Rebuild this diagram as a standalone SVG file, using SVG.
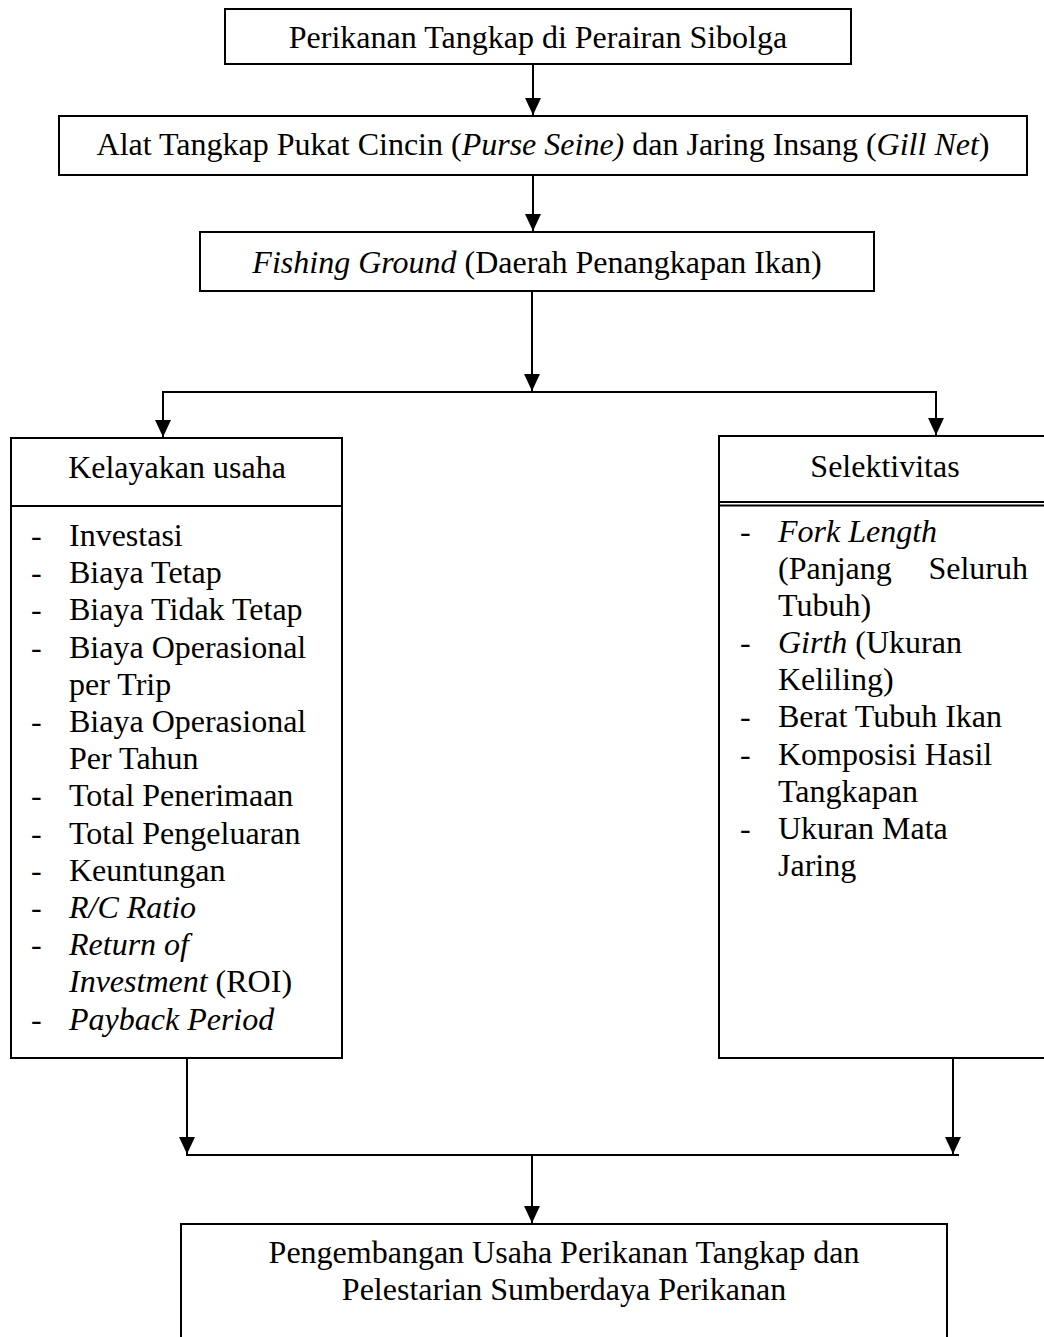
<svg xmlns="http://www.w3.org/2000/svg" width="1044" height="1337" viewBox="0 0 1044 1337">
<style>
  .box { fill: #fff; stroke: #000; stroke-width: 2; }
  .ln { stroke: #000; stroke-width: 2; fill: none; }
  text { font-family: "Liberation Serif", "Times New Roman", serif; font-size: 32px; fill: #000; }
  .c { text-anchor: middle; }
  .i { font-style: italic; }
</style>
<defs>
  <marker id="arr" markerUnits="userSpaceOnUse" markerWidth="18" markerHeight="16" viewBox="0 0 18 16" refX="17" refY="8" orient="auto">
    <path d="M0,0 L17,8 L0,16 Z" fill="#000"/>
  </marker>
</defs>
<rect width="1044" height="1337" fill="#fff"/>

<g id="connectors">
  <line class="ln" x1="533" y1="64" x2="533" y2="115" marker-end="url(#arr)"/>
  <line class="ln" x1="533" y1="175" x2="533" y2="231" marker-end="url(#arr)"/>
  <line class="ln" x1="532" y1="291" x2="532" y2="391" marker-end="url(#arr)"/>
  <line class="ln" x1="162" y1="392" x2="937" y2="392"/>
  <line class="ln" x1="163" y1="392" x2="163" y2="437" marker-end="url(#arr)"/>
  <line class="ln" x1="936" y1="392" x2="936" y2="435" marker-end="url(#arr)"/>
  <line class="ln" x1="187" y1="1058" x2="187" y2="1154" marker-end="url(#arr)"/>
  <line class="ln" x1="953" y1="1058" x2="953" y2="1154" marker-end="url(#arr)"/>
  <line class="ln" x1="186" y1="1155" x2="959" y2="1155"/>
  <line class="ln" x1="532" y1="1155" x2="532" y2="1223" marker-end="url(#arr)"/>
</g>

<g id="node-perikanan">
  <rect class="box" x="225" y="9" width="626" height="55"/>
  <text class="c" x="538" y="48">Perikanan Tangkap di Perairan Sibolga</text>
</g>

<g id="node-alat">
  <rect class="box" x="59" y="116" width="968" height="59"/>
  <text class="c" x="543" y="155">Alat Tangkap Pukat Cincin (<tspan class="i">Purse Seine)</tspan> dan Jaring Insang (<tspan class="i">Gill Net</tspan>)</text>
</g>

<g id="node-fishing">
  <rect class="box" x="200" y="232" width="674" height="59"/>
  <text class="c" x="537" y="273"><tspan class="i">Fishing Ground</tspan> (Daerah Penangkapan Ikan)</text>
</g>

<g id="node-kelayakan">
  <rect class="box" x="11" y="438" width="331" height="620"/>
  <line class="ln" x1="11" y1="506" x2="342" y2="506"/>
  <text class="c" x="177" y="478">Kelayakan usaha</text>
  <g>
    <text x="31" y="546">-</text><text x="69" y="546">Investasi</text>
    <text x="31" y="583">-</text><text x="69" y="583">Biaya Tetap</text>
    <text x="31" y="620">-</text><text x="69" y="620">Biaya Tidak Tetap</text>
    <text x="31" y="658">-</text><text x="69" y="658">Biaya Operasional</text>
    <text x="69" y="695">per Trip</text>
    <text x="31" y="732">-</text><text x="69" y="732">Biaya Operasional</text>
    <text x="69" y="769">Per Tahun</text>
    <text x="31" y="806">-</text><text x="69" y="806">Total Penerimaan</text>
    <text x="31" y="844">-</text><text x="69" y="844">Total Pengeluaran</text>
    <text x="31" y="881">-</text><text x="69" y="881">Keuntungan</text>
    <text x="31" y="918">-</text><text x="69" y="918" class="i">R/C Ratio</text>
    <text x="31" y="955">-</text><text x="69" y="955" class="i">Return of</text>
    <text x="69" y="992"><tspan class="i">Investment</tspan> (ROI)</text>
    <text x="31" y="1030">-</text><text x="69" y="1030" class="i">Payback Period</text>
  </g>
</g>

<g id="node-selektivitas">
  <rect class="box" x="719" y="436" width="340" height="622"/>
  <line class="ln" x1="719" y1="502" x2="1050" y2="502"/>
  <line class="ln" x1="719" y1="505.5" x2="1050" y2="505.5"/>
  <text class="c" x="885" y="477">Selektivitas</text>
  <g>
    <text x="740" y="542">-</text><text x="778" y="542" class="i">Fork Length</text>
    <text x="778" y="579">(Panjang</text><text x="1028" y="579" text-anchor="end">Seluruh</text>
    <text x="778" y="616">Tubuh)</text>
    <text x="740" y="653">-</text><text x="778" y="653"><tspan class="i">Girth</tspan> (Ukuran</text>
    <text x="778" y="690">Keliling)</text>
    <text x="740" y="727">-</text><text x="778" y="727">Berat Tubuh Ikan</text>
    <text x="740" y="765">-</text><text x="778" y="765">Komposisi Hasil</text>
    <text x="778" y="802">Tangkapan</text>
    <text x="740" y="839">-</text><text x="778" y="839">Ukuran Mata</text>
    <text x="778" y="876">Jaring</text>
  </g>
</g>

<g id="node-pengembangan">
  <rect class="box" x="181" y="1224" width="766" height="140"/>
  <text class="c" x="564" y="1263">Pengembangan Usaha Perikanan Tangkap dan</text>
  <text class="c" x="564" y="1300">Pelestarian Sumberdaya Perikanan</text>
</g>
</svg>
